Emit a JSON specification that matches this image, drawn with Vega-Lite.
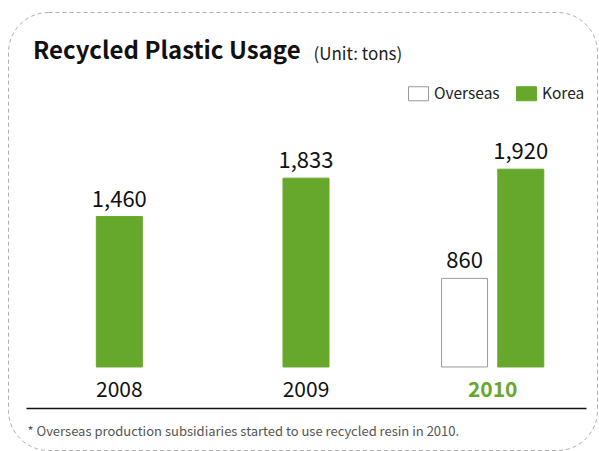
{
  "$schema": "https://vega.github.io/schema/vega-lite/v6.json",
  "width": 589,
  "height": 438,
  "autosize": "none",
  "padding": {"left": 8, "top": 12, "right": 2, "bottom": 1},
  "background": "white",
  "title": {
    "text": "Recycled Plastic Usage",
    "anchor": "start",
    "frame": "group",
    "orient": "top",
    "offset": -50,
    "dx": 25,
    "dy": 21,
    "baseline": "alphabetic",
    "font": "Noto Sans CJK KR",
    "fontSize": 24,
    "fontWeight": "bold",
    "color": "#111111"
  },
  "data": {
    "values": [
      {"year": "2008", "series": "Korea", "value": 1460},
      {"year": "2009", "series": "Korea", "value": 1833},
      {"year": "2010", "series": "Overseas", "value": 860},
      {"year": "2010", "series": "Korea", "value": 1920}
    ]
  },
  "encoding": {
    "x": {
      "field": "year",
      "type": "nominal",
      "scale": {"range": [18, 578], "paddingInner": 0, "paddingOuter": 0},
      "axis": {
        "title": "* Overseas production subsidiaries started to use recycled resin in 2010.",
        "titleX": 19,
        "titleY": 27,
        "titleAlign": "left",
        "titleAnchor": "start",
        "titleBaseline": "alphabetic",
        "titleFont": "Noto Sans CJK KR",
        "titleFontSize": 13,
        "titleFontWeight": "normal",
        "titleColor": "#555555",
        "offset": -42,
        "labelAngle": 0,
        "labelPadding": -12,
        "labelBaseline": "alphabetic",
        "labelFont": "Noto Sans CJK KR",
        "labelFontSize": 21,
        "labelColor": {"expr": "datum.value == '2010' ? '#66a82b' : '#111111'"},
        "labelFontWeight": {"expr": "datum.value == '2010' ? 'bold' : 'normal'"},
        "ticks": false,
        "tickSize": 0,
        "domain": true,
        "domainColor": "#111111",
        "domainWidth": 1.5,
        "grid": false
      }
    },
    "y": {
      "field": "value",
      "type": "quantitative",
      "scale": {"domain": [-806, 3446], "nice": false, "zero": false},
      "axis": {
        "title": "(Unit: tons)",
        "titleAngle": 0,
        "titleX": 305,
        "titleY": 47,
        "titleAlign": "left",
        "titleBaseline": "alphabetic",
        "titleFont": "Noto Sans CJK KR",
        "titleFontSize": 17,
        "titleFontWeight": "normal",
        "titleColor": "#222222",
        "labels": false,
        "ticks": false,
        "domain": false,
        "grid": false
      }
    },
    "color": {
      "field": "series",
      "type": "nominal",
      "scale": {"domain": ["Overseas", "Korea"], "range": ["#ffffff", "#66a82b"]},
      "legend": {"title": null, "orient": "none", "direction": "horizontal", "legendX": 400, "legendY": 71}
    },
    "stroke": {
      "field": "series",
      "type": "nominal",
      "scale": {"domain": ["Overseas", "Korea"], "range": ["#9a9a9a", "#66a82b"]},
      "legend": {"title": null, "orient": "none", "direction": "horizontal", "legendX": 400, "legendY": 71}
    }
  },
  "layer": [
    {
      "transform": [{"filter": "datum.year != '2010'"}],
      "mark": {"type": "bar", "width": 46, "strokeWidth": 1}
    },
    {
      "transform": [{"filter": "datum.year == '2010'"}],
      "mark": {"type": "bar", "width": 46, "strokeWidth": 1},
      "encoding": {
        "xOffset": {
          "field": "series",
          "type": "nominal",
          "sort": ["Overseas", "Korea"],
          "scale": {"domain": ["Overseas", "Korea"], "paddingInner": 0, "paddingOuter": 0.66}
        }
      }
    },
    {
      "transform": [{"filter": "datum.year != '2010'"}],
      "mark": {"type": "text", "dy": -10, "baseline": "alphabetic", "font": "Noto Sans CJK KR", "fontSize": 22, "color": "#111111"},
      "encoding": {
        "text": {"field": "value", "type": "quantitative", "format": ","},
        "color": {"value": "#111111"},
        "stroke": {"value": null}
      }
    },
    {
      "transform": [{"filter": "datum.year == '2010'"}],
      "mark": {"type": "text", "dy": -10, "baseline": "alphabetic", "font": "Noto Sans CJK KR", "fontSize": 22, "color": "#111111"},
      "encoding": {
        "xOffset": {
          "field": "series",
          "type": "nominal",
          "sort": ["Overseas", "Korea"],
          "scale": {"domain": ["Overseas", "Korea"], "paddingInner": 0, "paddingOuter": 0.66}
        },
        "text": {"field": "value", "type": "quantitative", "format": ","},
        "color": {"value": "#111111"},
        "stroke": {"value": null}
      }
    }
  ],
  "config": {
    "view": {"stroke": "#b0b0b0", "strokeDash": [4, 3], "cornerRadius": 40, "strokeWidth": 1},
    "legend": {
      "padding": 0,
      "labelFont": "Noto Sans CJK KR",
      "labelFontSize": 15.5,
      "labelColor": "#222222",
      "labelOffset": 5,
      "symbolType": "M-1,-0.7H1V0.7H-1Z",
      "symbolSize": 400,
      "symbolStrokeWidth": 1,
      "columnPadding": 14
    }
  }
}
